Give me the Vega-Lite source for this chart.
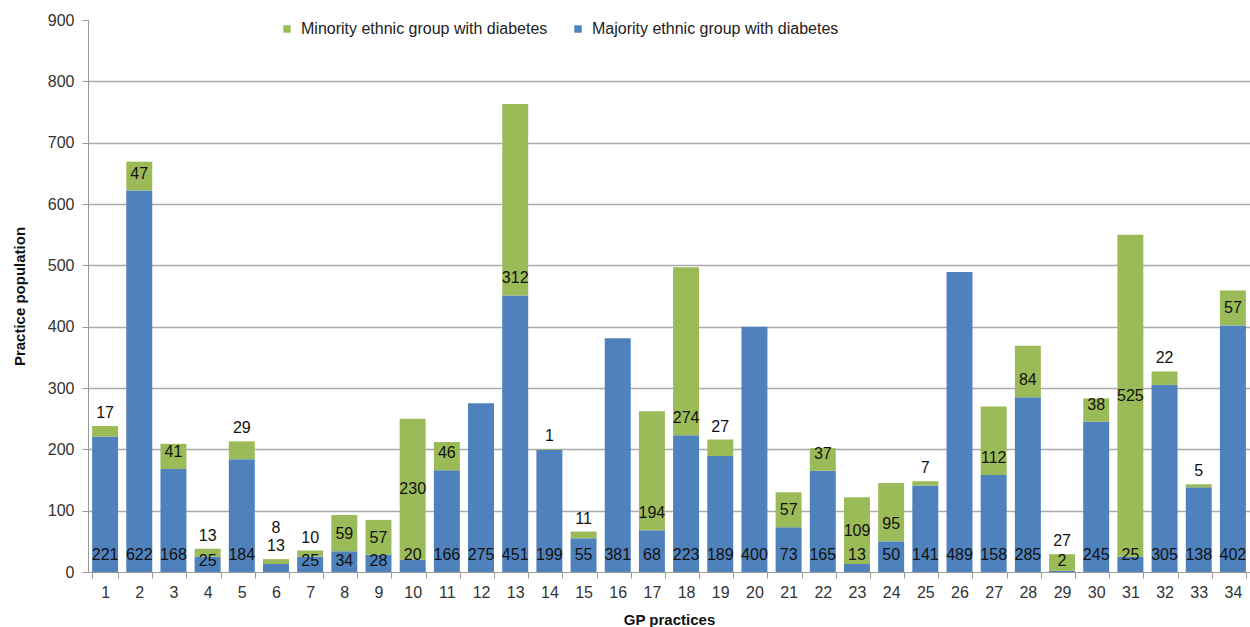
{
  "$schema": "https://vega.github.io/schema/vega-lite/v6.json",
  "width": 1162,
  "height": 552,
  "autosize": "none",
  "padding": {"left": 88, "top": 20, "right": 0, "bottom": 55},
  "background": "white",
  "config": {"font": "Liberation Sans", "view": {"stroke": null}},
  "data": {
    "values": [
      {"practice": 1, "majority": 221, "minority": 17},
      {"practice": 2, "majority": 622, "minority": 47},
      {"practice": 3, "majority": 168, "minority": 41},
      {"practice": 4, "majority": 25, "minority": 13},
      {"practice": 5, "majority": 184, "minority": 29},
      {"practice": 6, "majority": 13, "minority": 8},
      {"practice": 7, "majority": 25, "minority": 10},
      {"practice": 8, "majority": 34, "minority": 59},
      {"practice": 9, "majority": 28, "minority": 57},
      {"practice": 10, "majority": 20, "minority": 230},
      {"practice": 11, "majority": 166, "minority": 46},
      {"practice": 12, "majority": 275, "minority": 0},
      {"practice": 13, "majority": 451, "minority": 312},
      {"practice": 14, "majority": 199, "minority": 1},
      {"practice": 15, "majority": 55, "minority": 11},
      {"practice": 16, "majority": 381, "minority": 0},
      {"practice": 17, "majority": 68, "minority": 194},
      {"practice": 18, "majority": 223, "minority": 274},
      {"practice": 19, "majority": 189, "minority": 27},
      {"practice": 20, "majority": 400, "minority": 0},
      {"practice": 21, "majority": 73, "minority": 57},
      {"practice": 22, "majority": 165, "minority": 37},
      {"practice": 23, "majority": 13, "minority": 109},
      {"practice": 24, "majority": 50, "minority": 95},
      {"practice": 25, "majority": 141, "minority": 7},
      {"practice": 26, "majority": 489, "minority": 0},
      {"practice": 27, "majority": 158, "minority": 112},
      {"practice": 28, "majority": 285, "minority": 84},
      {"practice": 29, "majority": 2, "minority": 27},
      {"practice": 30, "majority": 245, "minority": 38},
      {"practice": 31, "majority": 25, "minority": 525},
      {"practice": 32, "majority": 305, "minority": 22},
      {"practice": 33, "majority": 138, "minority": 5},
      {"practice": 34, "majority": 402, "minority": 57}
    ]
  },
  "transform": [
    {"calculate": "datum.majority + datum.minority", "as": "total"},
    {"calculate": "datum.majority + datum.minority / 2", "as": "mid"}
  ],
  "encoding": {
    "x": {
      "field": "practice",
      "type": "ordinal",
      "scale": {"paddingInner": 0.24, "paddingOuter": 0.12},
      "axis": {
        "title": "GP practices",
        "titleFontSize": 15,
        "titleFontWeight": "bold",
        "titleColor": "#111",
        "titlePadding": 12,
        "labelAngle": 0,
        "labelFontSize": 16,
        "labelColor": "#333",
        "labelPadding": 6,
        "tickBand": "extent",
        "tickSize": 6,
        "tickColor": "#999",
        "domainColor": "#999",
        "grid": false
      }
    }
  },
  "layer": [
    {
      "transform": [
        {"fold": ["majority", "minority"], "as": ["group", "count"]},
        {"calculate": "datum.group == 'majority' ? 'Majority ethnic group with diabetes' : 'Minority ethnic group with diabetes'", "as": "series"},
        {"calculate": "datum.group == 'majority' ? 0 : 1", "as": "ord"}
      ],
      "mark": {"type": "bar"},
      "encoding": {
        "y": {
          "field": "count",
          "type": "quantitative",
          "stack": "zero",
          "scale": {"domain": [0, 900], "nice": false},
          "axis": {
            "values": [0, 100, 200, 300, 400, 500, 600, 700, 800, 900],
            "title": "Practice population",
            "titleFontSize": 15,
            "titleFontWeight": "bold",
            "titleColor": "#111",
            "titlePadding": 20,
            "labelFontSize": 16,
            "labelColor": "#333",
            "labelPadding": 8,
            "tickSize": 6,
            "tickColor": "#999",
            "domainColor": "#999",
            "gridColor": "#AAAAAA",
            "gridWidth": 1.5,
            "gridOpacity": {"condition": {"test": "datum.value == 900 || datum.value == 0", "value": 0}, "value": 1}
          }
        },
        "color": {
          "field": "series",
          "type": "nominal",
          "scale": {
            "domain": ["Minority ethnic group with diabetes", "Majority ethnic group with diabetes"],
            "range": ["#9BBB59", "#4F81BD"]
          },
          "legend": {
            "title": null,
            "orient": "none",
            "direction": "horizontal",
            "legendX": 191,
            "legendY": 1,
            "padding": 0,
            "symbolType": "square",
            "symbolSize": 55,
            "symbolStrokeWidth": 0,
            "labelFontSize": 16,
            "labelColor": "#222",
            "labelOffset": 6,
            "labelLimit": 400,
            "columnPadding": 22
          }
        },
        "order": {"field": "ord", "type": "quantitative"}
      }
    },
    {
      "transform": [{"filter": "!(datum.majority < 40 && datum.minority < 60)"}],
      "mark": {"type": "text", "fontSize": 16, "color": "#111", "baseline": "middle", "dy": -17},
      "encoding": {
        "y": {"datum": 0, "type": "quantitative"},
        "text": {"field": "majority", "type": "quantitative"}
      }
    },
    {
      "transform": [{"filter": "datum.majority < 40 && datum.minority < 60 && datum.total >= 25"}],
      "mark": {"type": "text", "fontSize": 16, "color": "#111", "baseline": "middle", "dy": -11},
      "encoding": {
        "y": {"datum": 0, "type": "quantitative"},
        "text": {"field": "majority", "type": "quantitative"}
      }
    },
    {
      "transform": [{"filter": "datum.total < 25"}],
      "mark": {"type": "text", "fontSize": 16, "color": "#111", "baseline": "middle", "dy": -13},
      "encoding": {
        "y": {"field": "total", "type": "quantitative"},
        "text": {"field": "majority", "type": "quantitative"}
      }
    },
    {
      "transform": [{"filter": "datum.minority >= 30 && !(datum.minority >= 100 && datum.majority < 30)"}],
      "mark": {"type": "text", "fontSize": 16, "color": "#111", "baseline": "middle", "dy": -17},
      "encoding": {
        "y": {"field": "majority", "type": "quantitative"},
        "text": {"field": "minority", "type": "quantitative"}
      }
    },
    {
      "transform": [{"filter": "datum.minority >= 100 && datum.majority < 30"}],
      "mark": {"type": "text", "fontSize": 16, "color": "#111", "baseline": "middle"},
      "encoding": {
        "y": {"field": "mid", "type": "quantitative"},
        "text": {"field": "minority", "type": "quantitative"}
      }
    },
    {
      "transform": [{"filter": "datum.minority > 0 && datum.minority < 30 && datum.total >= 25"}],
      "mark": {"type": "text", "fontSize": 16, "color": "#111", "baseline": "middle", "dy": -13},
      "encoding": {
        "y": {"field": "total", "type": "quantitative"},
        "text": {"field": "minority", "type": "quantitative"}
      }
    },
    {
      "transform": [{"filter": "datum.total < 25"}],
      "mark": {"type": "text", "fontSize": 16, "color": "#111", "baseline": "middle", "dy": -31},
      "encoding": {
        "y": {"field": "total", "type": "quantitative"},
        "text": {"field": "minority", "type": "quantitative"}
      }
    }
  ]
}
